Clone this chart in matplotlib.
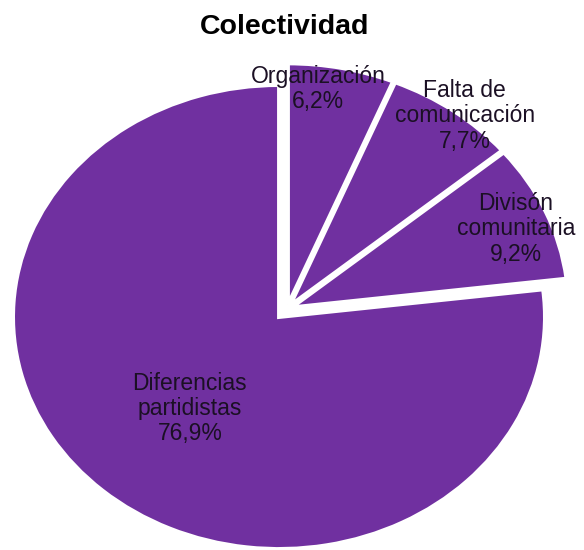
#!/usr/bin/env python3
# -*- coding: utf-8 -*-
"""
plot_colectividad.py
====================
Exploded pie chart of the reported problems within the community.

Output: out.png
"""

import matplotlib
matplotlib.use("Agg")
import matplotlib.pyplot as plt

# ---------------------------------------------------------------------------
# Data (percent of answers, clockwise from 12 o'clock)
# ---------------------------------------------------------------------------
CATEGORIES = ["Organización", "Falta de\ncomunicación", "Divisón\ncomunitaria",
              "Diferencias\npartidistas"]
PERCENTS   = [6.2, 7.7, 9.2, 76.9]

# Layout
EXPLODE      = [0.02, 0.02, 0.02, 0.045]
SMALL_RADIUS = 1.04          # the three minor slices stick out a little
LABEL_XY     = [(0.117, 0.949), (0.669, 0.833), (0.861, 0.346), (-0.365, -0.428)]
XLIM         = (-1.079, 1.117)
YLIM         = (-1.038, 1.333)
PURPLE       = "#7030A0"
TEXT_COL     = "#1b1024"
OUTPUT       = "out.png"

plt.rcParams["font.family"] = ["Liberation Sans", "DejaVu Sans"]


def fmt_pct(v):
    return f"{v:.1f}%".replace(".", ",")


def main():
    fig = plt.figure(figsize=(5.84, 5.5), dpi=100)
    ax = fig.add_axes([0, 0, 1, 1])

    wedges, _ = ax.pie(
        PERCENTS, explode=EXPLODE, startangle=90, counterclock=False,
        colors=[PURPLE] * len(PERCENTS),
        wedgeprops=dict(edgecolor="white", linewidth=2.8),
    )
    for w in wedges[:-1]:
        w.set_radius(SMALL_RADIUS)

    # stretched pie, as in the original slide
    ax.set_aspect("auto")
    ax.set_xlim(*XLIM)
    ax.set_ylim(*YLIM)
    ax.axis("off")

    for name, val, (x, y) in zip(CATEGORIES, PERCENTS, LABEL_XY):
        ax.text(x, y, f"{name}\n{fmt_pct(val)}", ha="center", va="center",
                multialignment="center", fontsize=16.5, color=TEXT_COL,
                linespacing=1.12)

    fig.text(0.488, 0.951, "Colectividad", ha="center", va="center",
             fontsize=20.5, fontweight="bold", color="black")

    fig.savefig(OUTPUT, dpi=100)
    plt.close(fig)
    print(f"Saved → {OUTPUT}")


if __name__ == "__main__":
    main()
